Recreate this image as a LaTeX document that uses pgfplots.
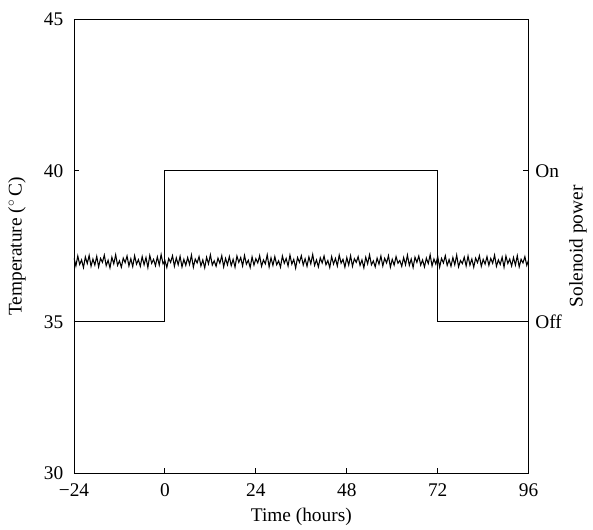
\documentclass[border=0pt]{standalone}
\usepackage{pgfplots}
\usepackage{pgfplotstable}
\pgfplotsset{compat=1.18}
\usepackage{fontspec}
\setmainfont{Liberation Serif}

\pgfplotstableread[row sep=\\]{
x y\\
-24 37.12\\ -23.5 36.85\\ -23 37.18\\ -22.5 36.90\\ -22 37.05\\ -21.5 36.80\\ -21 37.15\\ -20.5 36.93\\ -20 37.20\\ -19.5 36.84\\
-19 37.08\\ -18.5 36.88\\ -18 37.17\\ -17.5 36.82\\ -17 37.10\\ -16.5 36.97\\ -16 37.21\\ -15.5 36.86\\ -15 37.04\\ -14.5 36.79\\
-14 37.14\\ -13.5 36.92\\ -13 37.22\\ -12.5 36.87\\ -12 37.02\\ -11.5 36.81\\ -11 37.11\\ -10.5 36.96\\ -10 37.18\\ -9.5 36.85\\
-9 37.09\\ -8.5 36.83\\ -8 37.19\\ -7.5 36.91\\ -7 37.06\\ -6.5 36.84\\ -6 37.16\\ -5.5 36.89\\ -5 37.13\\ -4.5 36.80\\
-4 37.20\\ -3.5 36.94\\ -3 37.07\\ -2.5 36.86\\ -2 37.15\\ -1.5 36.88\\ -1 37.23\\ -0.5 36.92\\ 0 37.03\\ 0.5 36.80\\
1 37.10\\ 1.5 36.97\\ 2 37.19\\ 2.5 36.84\\ 3 37.12\\ 3.5 36.89\\ 4 37.17\\ 4.5 36.82\\ 5 37.07\\ 5.5 36.87\\
6 37.13\\ 6.5 36.90\\ 7 37.21\\ 7.5 36.81\\ 8 37.08\\ 8.5 36.95\\ 9 37.16\\ 9.5 36.85\\ 10 37.05\\ 10.5 36.79\\
11 37.14\\ 11.5 36.92\\ 12 37.22\\ 12.5 36.88\\ 13 37.02\\ 13.5 36.84\\ 14 37.11\\ 14.5 36.94\\ 15 37.19\\ 15.5 36.82\\
16 37.10\\ 16.5 36.89\\ 17 37.16\\ 17.5 36.86\\ 18 37.07\\ 18.5 36.81\\ 19 37.18\\ 19.5 36.97\\ 20 37.13\\ 20.5 36.85\\
21 37.20\\ 21.5 36.91\\ 22 37.04\\ 22.5 36.80\\ 23 37.15\\ 23.5 36.88\\ 24 37.09\\ 24.5 36.95\\ 25 37.19\\ 25.5 36.84\\
26 37.05\\ 26.5 36.92\\ 27 37.22\\ 27.5 36.82\\ 28 37.12\\ 28.5 36.87\\ 29 37.16\\ 29.5 36.89\\ 30 37.02\\ 30.5 36.81\\
31 37.18\\ 31.5 36.94\\ 32 37.10\\ 32.5 36.85\\ 33 37.21\\ 33.5 36.91\\ 34 37.07\\ 34.5 36.78\\ 35 37.13\\ 35.5 36.97\\
36 37.19\\ 36.5 36.88\\ 37 37.09\\ 37.5 36.84\\ 38 37.15\\ 38.5 36.92\\ 39 37.23\\ 39.5 36.87\\ 40 37.05\\ 40.5 36.82\\
41 37.12\\ 41.5 36.95\\ 42 37.18\\ 42.5 36.89\\ 43 37.03\\ 43.5 36.80\\ 44 37.16\\ 44.5 36.91\\ 45 37.10\\ 45.5 36.85\\
46 37.21\\ 46.5 36.94\\ 47 37.07\\ 47.5 36.81\\ 48 37.13\\ 48.5 36.88\\ 49 37.19\\ 49.5 36.84\\ 50 37.09\\ 50.5 36.97\\
51 37.16\\ 51.5 36.87\\ 52 37.05\\ 52.5 36.79\\ 53 37.14\\ 53.5 36.92\\ 54 37.22\\ 54.5 36.89\\ 55 37.02\\ 55.5 36.82\\
56 37.11\\ 56.5 36.91\\ 57 37.18\\ 57.5 36.85\\ 58 37.10\\ 58.5 36.95\\ 59 37.19\\ 59.5 36.81\\ 60 37.07\\ 60.5 36.88\\
61 37.16\\ 61.5 36.94\\ 62 37.03\\ 62.5 36.84\\ 63 37.13\\ 63.5 36.89\\ 64 37.21\\ 64.5 36.87\\ 65 37.08\\ 65.5 36.80\\
66 37.14\\ 66.5 36.97\\ 67 37.18\\ 67.5 36.88\\ 68 37.05\\ 68.5 36.82\\ 69 37.11\\ 69.5 36.93\\ 70 37.22\\ 70.5 36.85\\
71 37.08\\ 71.5 36.91\\ 72 37.16\\ 72.5 36.81\\ 73 37.10\\ 73.5 36.95\\ 74 37.19\\ 74.5 36.87\\ 75 37.06\\ 75.5 36.84\\
76 37.13\\ 76.5 36.89\\ 77 37.21\\ 77.5 36.82\\ 78 37.03\\ 78.5 36.93\\ 79 37.14\\ 79.5 36.85\\ 80 37.18\\ 80.5 36.88\\
81 37.08\\ 81.5 36.81\\ 82 37.11\\ 82.5 36.96\\ 83 37.19\\ 83.5 36.84\\ 84 37.07\\ 84.5 36.91\\ 85 37.16\\ 85.5 36.87\\
86 37.10\\ 86.5 36.94\\ 87 37.21\\ 87.5 36.84\\ 88 37.05\\ 88.5 36.90\\ 89 37.14\\ 89.5 36.81\\ 90 37.18\\ 90.5 36.93\\
91 37.08\\ 91.5 36.85\\ 92 37.13\\ 92.5 36.88\\ 93 37.19\\ 93.5 36.82\\ 94 37.07\\ 94.5 36.95\\ 95 37.16\\ 95.5 36.87\\
96 37.05\\
}\tempdata

\begin{document}
\fontsize{14.5}{17}\selectfont
\begin{tikzpicture}
\useasboundingbox (-55.5pt,-42pt) rectangle (389.25pt,354.75pt);
\pgfplotsset{
  every axis/.append style={
    font=\fontsize{14.5}{17}\selectfont,
    /pgf/number format/assume math mode=true,
    axis line style={line width=0.7pt},
    every tick/.style={black, line width=0.7pt},
    major tick length=4pt,
  }
}
\begin{axis}[
  at={(0,0)}, anchor=south west,
  scale only axis,
  width=341pt, height=340pt,
  xmin=-24, xmax=96, ymin=30, ymax=45,
  tick align=inside,
  xtick={-24,0,24,48,72,96},
  xticklabels={−24,0,24,48,72,96},
  ytick={30,35,40,45},
  xtick pos=bottom, ytick pos=left,
  xticklabel style={yshift=-3pt},
  yticklabel style={xshift=-3pt},
  xlabel={Time (hours)},
  ylabel={Temperature (${}^\circ$\,C)},
  xlabel style={at={(axis description cs:0.5,-0.097)}, anchor=center},
  ylabel style={at={(axis description cs:-0.1254,0.5)}, anchor=center},
]
\addplot[black, line width=0.8pt] table[x=x, y=y] {\tempdata};
\addplot[black, line width=0.7pt, const plot] coordinates {(-24,35) (0,40) (72,35) (96,35)};
\end{axis}
\begin{axis}[
  at={(0,0)}, anchor=south west,
  scale only axis,
  width=341pt, height=340pt,
  xmin=-24, xmax=96, ymin=30, ymax=45,
  axis x line=none,
  axis y line*=right,
  tick align=inside,
  ytick={35,40},
  yticklabels={Off,On},
  ylabel={Solenoid power},
  ylabel style={at={(axis description cs:1.1085,0.5)}, anchor=center},
]
\end{axis}
\end{tikzpicture}
\end{document}
